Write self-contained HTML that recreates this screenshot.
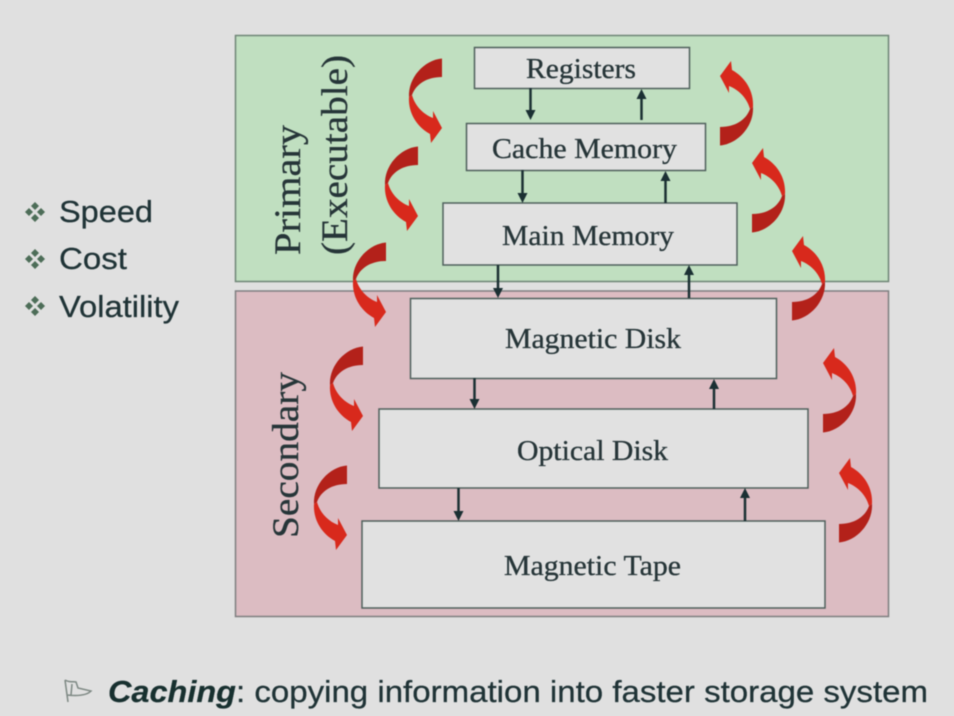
<!DOCTYPE html>
<html>
<head>
<meta charset="utf-8">
<style>
html,body{margin:0;padding:0;background:#e0e0e0;width:954px;height:716px;overflow:hidden}
svg{display:block;filter:blur(0.6px)}
.s{font-family:"Liberation Serif",serif;fill:#263538;stroke:#263538;stroke-width:.3px}
.a{font-family:"Liberation Sans",sans-serif;fill:#1f3336;stroke:#1f3336;stroke-width:.25px}
</style>
</head>
<body>
<svg xmlns="http://www.w3.org/2000/svg" width="954" height="716" viewBox="0 0 954 716">
<defs>
<g id="ca">
<path d="M33,0.5C15,2 -1,20 0,39L3,37C7,26 18,19 33,19Z" fill="#b3211a"/>
<path d="M0,39C-1,55 8,69 21,76L22,85L33,70L24,53L24,60C14,56 6,48 3,37Z" fill="#d8291c"/>
</g>
<g id="bl" fill="#4d6d58">
<path d="M0,-10L4,-6L0,-2L-4,-6Z"/><path d="M0,10L4,6L0,2L-4,6Z"/><path d="M-10,0L-6,4L-2,0L-6,-4Z"/><path d="M10,0L6,4L2,0L6,-4Z"/>
</g>
</defs>
<rect width="954" height="716" fill="#e0e0e0"/>
<rect x="235.500" y="35.500" width="653" height="246" fill="#c0dfc0" stroke="#6f8577" stroke-width="1.500"/>
<rect x="235.500" y="291" width="653" height="325.500" fill="#dcbcc2" stroke="#7f7f80" stroke-width="1.500"/>

<g fill="#e1e1e1" stroke="#4f605c" stroke-width="1.500">
<rect x="474.500" y="47.500" width="215" height="41"/>
<rect x="466.500" y="123.500" width="239" height="47"/>
<rect x="443" y="203" width="294" height="62"/>
<rect x="410.500" y="298.500" width="366" height="80"/>
<rect x="379" y="409" width="429" height="79"/>
<rect x="362" y="521" width="463" height="87"/>
</g>

<g class="s" font-size="28">
<text x="526" y="78" textLength="110" lengthAdjust="spacingAndGlyphs">Registers</text>
<text x="492" y="158" textLength="185" lengthAdjust="spacingAndGlyphs">Cache Memory</text>
<text x="502" y="245" textLength="172" lengthAdjust="spacingAndGlyphs">Main Memory</text>
<text x="505" y="348" textLength="176" lengthAdjust="spacingAndGlyphs">Magnetic Disk</text>
<text x="517" y="460" textLength="151" lengthAdjust="spacingAndGlyphs">Optical Disk</text>
<text x="504" y="575" textLength="177" lengthAdjust="spacingAndGlyphs">Magnetic Tape</text>
</g>

<g class="s" font-size="37">
<text transform="translate(300,255) rotate(-90)" textLength="130" lengthAdjust="spacingAndGlyphs">Primary</text>
<text transform="translate(347,255) rotate(-90)" textLength="200" lengthAdjust="spacingAndGlyphs">(Executable)</text>
<text transform="translate(298,538) rotate(-90)" textLength="166" lengthAdjust="spacingAndGlyphs">Secondary</text>
</g>

<g stroke="#1b3033" stroke-width="2.500" fill="none">
<path d="M530.500,88V112M522.500,170V195M498,265V290M474.500,378V401M458.500,488V513"/>
<path d="M641.500,120V97M665.500,203V179M689,298V273M714,409V387M745,521V498"/>
</g>
<g fill="#1b3033">
<path d="M525.500,110h10l-5,10Z"/><path d="M517.500,193h10l-5,10Z"/><path d="M493,288h10l-5,10Z"/><path d="M469.500,399h10l-5,10Z"/><path d="M453.500,511h10l-5,10Z"/>
<path d="M636.500,99h10l-5,-10Z"/><path d="M660.500,181h10l-5,-10Z"/><path d="M684,275h10l-5,-10Z"/><path d="M709,389h10l-5,-10Z"/><path d="M740,498h10l-5,-10Z"/>
</g>

<use href="#ca" transform="translate(409,58)"/>
<use href="#ca" transform="translate(385,146)"/>
<use href="#ca" transform="translate(353,242)"/>
<use href="#ca" transform="translate(330,346)"/>
<use href="#ca" transform="translate(314,465)"/>
<use href="#ca" transform="translate(753,146) rotate(180)"/>
<use href="#ca" transform="translate(785,233) rotate(180)"/>
<use href="#ca" transform="translate(825,321) rotate(180)"/>
<use href="#ca" transform="translate(856,433) rotate(180)"/>
<use href="#ca" transform="translate(872,543) rotate(180)"/>

<use href="#bl" transform="translate(35,212)"/>
<use href="#bl" transform="translate(35,259)"/>
<use href="#bl" transform="translate(35,306)"/>
<g class="a" font-size="31">
<text x="59" y="222" textLength="94" lengthAdjust="spacingAndGlyphs">Speed</text>
<text x="59" y="269" textLength="68" lengthAdjust="spacingAndGlyphs">Cost</text>
<text x="59" y="317" textLength="120" lengthAdjust="spacingAndGlyphs">Volatility</text>
</g>

<path d="M65,680L68,702M65,680C70,683 73,681 76,682L78,688L91,691C86,696 76,696 67,695M72,684L71,695" fill="none" stroke="#7d8883" stroke-width="1.500"/>
<g class="a" font-size="31">
<text x="108" y="702" font-weight="bold" font-style="italic" fill="#17302f" textLength="128" lengthAdjust="spacingAndGlyphs">Caching</text>
<text x="236" y="702" textLength="692" lengthAdjust="spacingAndGlyphs">: copying information into faster storage system</text>
</g>
</svg>
</body>
</html>
